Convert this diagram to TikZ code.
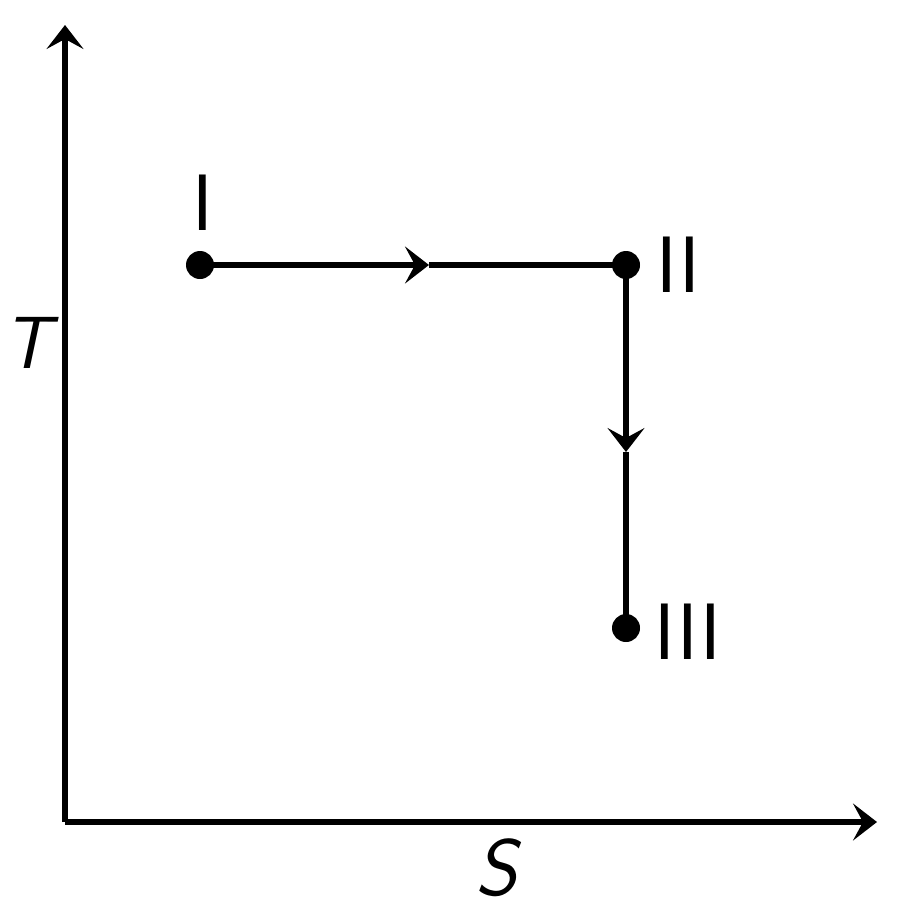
\documentclass[tikz,border=0pt]{standalone}
\usetikzlibrary{arrows.meta}
\begin{document}
\begin{tikzpicture}[x=1pt,y=-1pt,
  line width=5.5pt,
  arr/.style={-{Stealth[length=24pt,width=37pt,inset=10pt]}},
  dot/.style={circle,fill=black,inner sep=0pt,minimum size=28pt},
  lbl/.style={inner sep=0pt,font=\sffamily\fontsize{80}{82}\selectfont}]
\useasboundingbox (0,0) rectangle (900,924);
\coordinate (O) at (65,822);
\coordinate (Ytop) at (65,25);
\coordinate (Xend) at (877,822);
\draw[arr] (O) -- (Ytop);
\draw[arr] (O) -- (Xend);
\node[dot] (p1) at (200,265) {};
\node[dot] (p2) at (626,265) {};
\node[dot] (p3) at (626,628) {};
\coordinate (m1) at (429,265);
\coordinate (m2) at (626,452);
\draw[arr] (p1.center) -- (m1);
\draw (m1) -- (p2.center);
\draw[arr] (p2.center) -- (m2);
\draw (m2) -- (p3.center);
\node[lbl] (l1) at (203,203) {I};
\node[lbl] (l2) at (678,265) {II};
\node[lbl] (l3) at (688,632) {III};
\node[lbl,font=\sffamily\fontsize{74}{76}\selectfont] (lT) at (27,343) {\itshape T};
\node[lbl] (lS) at (496,868) {\itshape S};
\end{tikzpicture}
\end{document}
